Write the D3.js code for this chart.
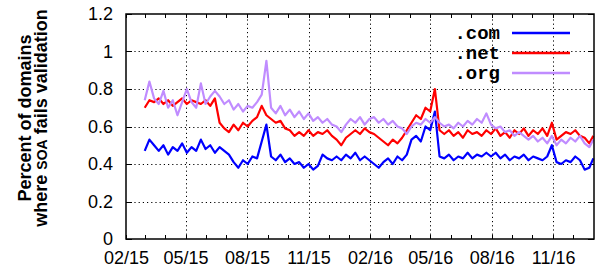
<!DOCTYPE html>
<html>
<head>
<meta charset="utf-8">
<script src="https://cdn.jsdelivr.net/npm/d3@7"></script>
<style>
  body { margin: 0; background: #fff; }
  svg { display: block; }
  .tick text { font-family: "Liberation Sans", Arial, sans-serif; font-size: 18px; fill: #000; }
  .legend text { font-family: "Liberation Mono", "Courier New", monospace; font-weight: bold; font-size: 19px; }
</style>
</head>
<body>
<svg id="chart" width="596" height="273"></svg>
<script>
// weekly samples, starting 2015-03-01, last point 2016-12-31
const startDate = new Date(2015, 2, 1);
const comValues = [
  0.47, 0.53, 0.50, 0.47, 0.50, 0.45, 0.49, 0.47, 0.51, 0.46,
  0.49, 0.47, 0.53, 0.48, 0.50, 0.46, 0.49, 0.47, 0.45, 0.41,
  0.38, 0.42, 0.40, 0.44, 0.43, 0.52, 0.61, 0.44, 0.42, 0.45,
  0.41, 0.43, 0.40, 0.41, 0.38, 0.40, 0.37, 0.39, 0.45, 0.43,
  0.42, 0.44, 0.42, 0.45, 0.43, 0.46, 0.42, 0.44, 0.42, 0.40,
  0.38, 0.41, 0.43, 0.40, 0.44, 0.42, 0.45, 0.53, 0.55, 0.52,
  0.60, 0.58, 0.68, 0.44, 0.43, 0.45, 0.42, 0.44, 0.43, 0.46,
  0.43, 0.45, 0.44, 0.46, 0.44, 0.46, 0.43, 0.45, 0.42, 0.44,
  0.43, 0.45, 0.42, 0.44, 0.43, 0.42, 0.44, 0.50, 0.41, 0.40,
  0.42, 0.41, 0.44, 0.42, 0.37, 0.38, 0.43
];
const netValues = [
  0.70, 0.74, 0.73, 0.75, 0.72, 0.74, 0.71, 0.73, 0.75, 0.72,
  0.74, 0.73, 0.72, 0.74, 0.71, 0.75, 0.62, 0.59, 0.57, 0.61,
  0.58, 0.62, 0.60, 0.63, 0.65, 0.71, 0.66, 0.64, 0.62, 0.63,
  0.59, 0.58, 0.55, 0.57, 0.55, 0.58, 0.55, 0.57, 0.56, 0.58,
  0.55, 0.53, 0.50, 0.54, 0.56, 0.58, 0.56, 0.59, 0.57, 0.56,
  0.54, 0.52, 0.50, 0.53, 0.51, 0.54, 0.58, 0.62, 0.66, 0.64,
  0.70, 0.68, 0.80, 0.58, 0.56, 0.58, 0.55, 0.57, 0.54, 0.58,
  0.56, 0.57, 0.55, 0.58, 0.56, 0.59, 0.55, 0.57, 0.54, 0.58,
  0.56, 0.59, 0.55, 0.58, 0.56, 0.59, 0.55, 0.62, 0.53, 0.55,
  0.57, 0.56, 0.58, 0.55, 0.54, 0.51, 0.55
];
const orgValues = [
  0.74, 0.84, 0.75, 0.72, 0.79, 0.70, 0.74, 0.66, 0.73, 0.80,
  0.73, 0.70, 0.83, 0.72, 0.76, 0.79, 0.76, 0.72, 0.74, 0.69,
  0.72, 0.68, 0.71, 0.70, 0.73, 0.77, 0.95, 0.70, 0.67, 0.71,
  0.66, 0.69, 0.65, 0.68, 0.64, 0.67, 0.63, 0.65, 0.62, 0.64,
  0.61, 0.60, 0.57, 0.61, 0.64, 0.62, 0.65, 0.61, 0.64, 0.65,
  0.62, 0.64, 0.61, 0.63, 0.60, 0.59, 0.56, 0.60, 0.62, 0.61,
  0.64, 0.62, 0.65, 0.62, 0.60, 0.61, 0.59, 0.62, 0.60, 0.63,
  0.61, 0.64, 0.62, 0.67, 0.61, 0.59, 0.60, 0.57, 0.58, 0.55,
  0.57, 0.55, 0.53, 0.55, 0.52, 0.54, 0.51, 0.55, 0.50, 0.53,
  0.51, 0.54, 0.52, 0.55, 0.51, 0.49, 0.53
];
const seriesNames = [".com", ".net", ".org"];
const seriesColors = ["#0000ff", "#ff0000", "#c08cff"];
const yTicks = [0, 0.2, 0.4, 0.6, 0.8, 1, 1.2];
const xTickDates = [
  new Date(2015, 1, 1), new Date(2015, 4, 1), new Date(2015, 7, 1), new Date(2015, 10, 1),
  new Date(2016, 1, 1), new Date(2016, 4, 1), new Date(2016, 7, 1), new Date(2016, 10, 1)
];

const dates = comValues.map((v, i) =>
  i === comValues.length - 1 ? new Date(2016, 11, 31) : d3.timeDay.offset(startDate, 7 * i));

const svg = d3.select("#chart");
const margin = { left: 126, right: 2, top: 14, bottom: 34 };
const W = 596, H = 273;

let x = d3.scaleTime()
  .domain([new Date(2015, 1, 1), new Date(2017, 0, 1)])
  .range([margin.left, W - margin.right]);
let y = d3.scaleLinear()
  .domain([0, 1.2])
  .range([H - margin.bottom, margin.top]);

// grid
let grid = svg.append("g").attr("stroke", "#000").attr("stroke-width", 1)
  .attr("stroke-dasharray", "1.2,3");
grid.selectAll(".hg").data(yTicks.slice(1, -1)).enter().append("line")
  .attr("x1", x.range()[0]).attr("x2", x.range()[1])
  .attr("y1", d => Math.round(y(d)) + 0.5).attr("y2", d => Math.round(y(d)) + 0.5);
grid.selectAll(".vg").data(xTickDates.slice(1)).enter().append("line")
  .attr("x1", d => Math.round(x(d)) + 0.5).attr("x2", d => Math.round(x(d)) + 0.5)
  .attr("y1", y.range()[0]).attr("y2", y.range()[1]);

// minor month ticks (bottom and top, mirrored)
let months = d3.timeMonth.range(new Date(2015, 1, 1), new Date(2017, 0, 1));
let ticksG = svg.append("g").attr("stroke", "#000").attr("stroke-width", 1);
ticksG.selectAll(".mb").data(months).enter().append("line")
  .attr("x1", d => Math.round(x(d)) + 0.5).attr("x2", d => Math.round(x(d)) + 0.5)
  .attr("y1", y(0)).attr("y2", y(0) - 4);
ticksG.selectAll(".mt").data(months).enter().append("line")
  .attr("x1", d => Math.round(x(d)) + 0.5).attr("x2", d => Math.round(x(d)) + 0.5)
  .attr("y1", y(1.2)).attr("y2", y(1.2) + 4);
ticksG.selectAll(".yl").data(yTicks).enter().append("line")
  .attr("x1", x.range()[0]).attr("x2", x.range()[0] + 6)
  .attr("y1", d => Math.round(y(d)) + 0.5).attr("y2", d => Math.round(y(d)) + 0.5);
ticksG.selectAll(".yr").data(yTicks).enter().append("line")
  .attr("x1", x.range()[1]).attr("x2", x.range()[1] - 6)
  .attr("y1", d => Math.round(y(d)) + 0.5).attr("y2", d => Math.round(y(d)) + 0.5);

// axes labels
let yAxis = svg.append("g")
  .attr("transform", `translate(${margin.left},0)`)
  .call(d3.axisLeft(y).tickValues(yTicks).tickSize(0).tickPadding(13).tickFormat(d3.format("")));
yAxis.select(".domain").remove();

let xAxis = svg.append("g")
  .attr("transform", `translate(0,${H - margin.bottom})`)
  .call(d3.axisBottom(x).tickValues(xTickDates).tickSize(0).tickPadding(12).tickFormat(d3.timeFormat("%m/%y")));
xAxis.select(".domain").remove();

// lines
let line = d3.line().x((d, i) => x(dates[i])).y(d => y(d));
[comValues, netValues, orgValues].forEach((vals, k) => {
  svg.append("path")
    .datum(vals)
    .attr("d", line)
    .attr("fill", "none")
    .attr("stroke", seriesColors[k])
    .attr("stroke-width", 2.2)
    .attr("stroke-linejoin", "round");
});

// frame
svg.append("rect")
  .attr("x", x.range()[0]).attr("y", y.range()[1])
  .attr("width", x.range()[1] - x.range()[0]).attr("height", y.range()[0] - y.range()[1])
  .attr("fill", "none").attr("stroke", "#000").attr("stroke-width", 1.5);

// legend
let legend = svg.append("g").attr("class", "legend");
seriesNames.forEach((name, k) => {
  let ly = 33 + k * 20;
  legend.append("text").attr("x", 500).attr("y", ly).attr("dy", "0.3em")
    .attr("text-anchor", "end").text(name);
  legend.append("line").attr("x1", 512).attr("x2", 570)
    .attr("y1", ly).attr("y2", ly)
    .attr("stroke", seriesColors[k]).attr("stroke-width", 2.5);
});

// y title
let title = svg.append("text")
  .attr("transform", "translate(0,118) rotate(-90)")
  .attr("text-anchor", "middle")
  .style("font-family", "Liberation Sans, Arial, sans-serif")
  .style("font-weight", "bold")
  .style("font-size", "18px");
title.append("tspan").attr("x", 0).attr("y", 31).text("Percent of domains");
let t2 = title.append("tspan").attr("x", 0).attr("y", 47);
t2.append("tspan").text("where ");
t2.append("tspan").style("font-size", "14px").text("SOA");
t2.append("tspan").text(" fails validation");
</script>
</body>
</html>
